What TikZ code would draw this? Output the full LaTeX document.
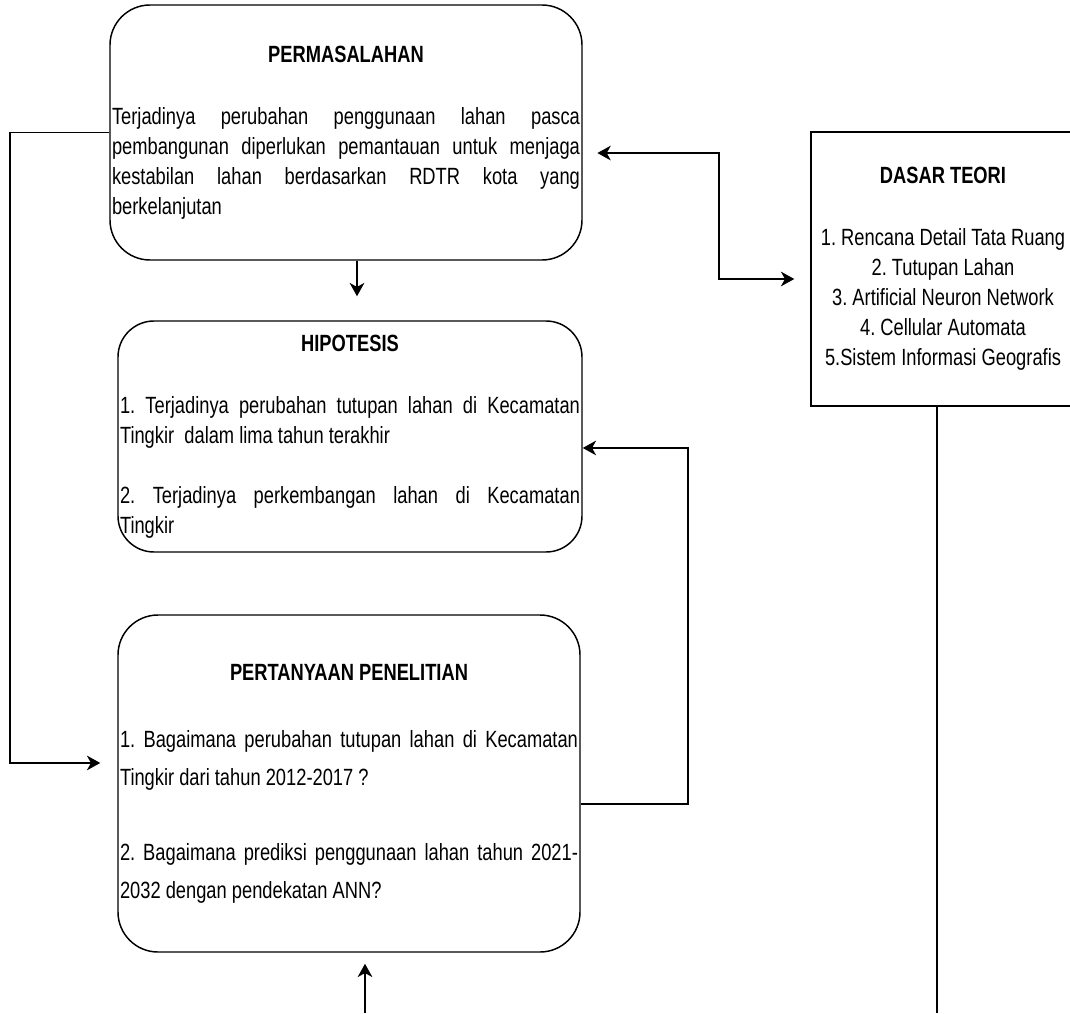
\documentclass[tikz,border=0pt]{standalone}
\usepackage{fontspec}
\setmainfont{Liberation Sans}[FakeStretch=0.78]
\usetikzlibrary{arrows.meta}
\setlength{\parindent}{0pt}
\frenchspacing
\newcommand{\judul}[1]{{\centering\bfseries #1\par}}

\begin{document}
\begin{tikzpicture}[x=0.75pt,y=-0.75pt,
    panah/.style={-{Stealth[length=10pt,width=11pt,inset=3pt]}, line width=1.1pt},
    panahdua/.style={{Stealth[length=10pt,width=11pt,inset=3pt]}-{Stealth[length=10pt,width=11pt,inset=3pt]}, line width=1.1pt}]

      \useasboundingbox (0,0) rectangle (1070,1013);
      \clip (0,0) rectangle (1070,1013);

      \begin{scope}[every node/.style={draw, line width=1.1pt, inner xsep=1.5pt, inner ysep=0pt,
          font=\fontsize{17.6}{22.5}\selectfont}]
        \node[rounded corners=30pt, align=justify, text width=351pt, minimum height=191.25pt]
          (perm) at (346,132.5) {\judul{PERMASALAHAN}\vspace{24pt}
          Terjadinya perubahan penggunaan lahan pasca\linebreak
          pembangunan diperlukan pemantauan untuk menjaga\linebreak
          kestabilan lahan berdasarkan RDTR kota yang\linebreak
          berkelanjutan};
        \node[rounded corners=27pt, align=justify, text width=345pt, minimum height=173.25pt]
          (hip) at (350,436.5) {\judul{HIPOTESIS}\vspace{24pt}
          1. Terjadinya perubahan tutupan lahan di Kecamatan\linebreak
          Tingkir\ \ dalam lima tahun terakhir\par\vspace{22.5pt}
          2. Terjadinya perkembangan lahan di Kecamatan\linebreak
          Tingkir};
        \node[rounded corners=30pt, align=justify, text width=343.5pt, minimum height=252.75pt,
          font=\fontsize{17.6}{28.5}\selectfont]
          (pert) at (349,783.5) {\judul{PERTANYAAN PENELITIAN}\vspace{21.75pt}
          1. Bagaimana perubahan tutupan lahan di Kecamatan\linebreak
          Tingkir dari tahun 2012-2017 ?\par\vspace{27.75pt}
          2. Bagaimana prediksi penggunaan lahan tahun 2021-\linebreak
          2032 dengan pendekatan ANN?};
        \node[align=center, minimum width=198pt, minimum height=205.5pt]
          (dasar) at (943,269) {\textbf{DASAR TEORI}\\[24pt]
          1. Rencana Detail Tata Ruang\\
          2. Tutupan Lahan\\
          3. Artificial Neuron Network\\
          4. Cellular Automata\\
          5.Sistem Informasi Geografis};
      \end{scope}

      % titik bantu
      \coordinate (pkanan) at ([yshift=-15.4pt]perm.east);
      \coordinate (dkiri)  at ([yshift=-7.5pt]dasar.west);
      \coordinate (sambung) at (719,0);
      \coordinate (kiri)   at (10,0);
      \coordinate (tkiri)  at ([yshift=15.4pt]pert.west);
      \coordinate (tkanan) at ([yshift=-15.4pt]pert.east);
      \coordinate (hkanan) at ([yshift=-8.6pt]hip.east);
      \coordinate (balik)  at (688,0);
      \coordinate (bawah)  at (365,1013);
      \coordinate (ujung)  at (937,1013);

      \draw[panah, shorten >=18pt] ([xshift=8.25pt]perm.south) -- ([xshift=8.25pt]perm.south |- hip.north);
      \draw[panahdua, shorten <=11pt, shorten >=12pt] (pkanan) -| (sambung |- dkiri) -- (dkiri);
      \draw[panah, shorten >=12.75pt] (perm.west) -| (kiri |- tkiri) -- (tkiri);
      \draw[panah] (tkanan) -| (balik |- hkanan) -- (hkanan);
      \draw[panah, shorten >=8.25pt] (bawah) -- (bawah |- pert.south);
      \draw[line width=1.1pt] (dasar.south -| ujung) -- (ujung);

    \end{tikzpicture}
\end{document}
